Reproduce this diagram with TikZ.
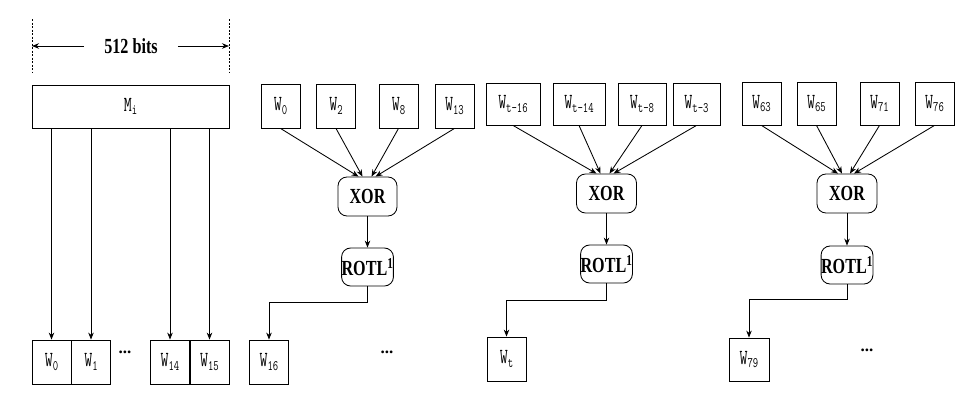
\documentclass[tikz,border=0pt]{standalone}
\usepackage{fontspec}
\setmainfont{Liberation Serif}
\newfontfamily\cfont[FakeStretch=0.75]{Liberation Serif}
\usetikzlibrary{arrows.meta,calc}
\newcommand\wlab[2]{\scalebox{0.72}[1]{\ttfamily\fontsize{21.5}{21.5}\selectfont #1\raisebox{-0.4ex}{\fontsize{14.5}{14.5}\selectfont #2}}}
\tikzset{
  ln/.style={line width=0.85pt},
  arr/.style={ln,-{Stealth[length=7pt,width=5.5pt]}},
  wbox/.style={draw,ln,inner sep=0pt,minimum width=39pt,minimum height=44pt},
  opbox/.style={draw,ln,rounded corners=9pt,inner sep=0pt,minimum height=39pt},
  optext/.style={font=\cfont\bfseries\fontsize{21.5}{21.5}\selectfont},
  dotsn/.style={font=\bfseries\fontsize{17}{17}\selectfont,inner sep=0pt},
}
\begin{document}
\begin{tikzpicture}[x=1pt,y=-1pt]
\useasboundingbox (0,0) rectangle (967,415);
% ---- block 1
\coordinate (dl1) at (32,19); \coordinate (dl2) at (32,73);
\coordinate (dr1) at (229,19); \coordinate (dr2) at (229,73);
\draw[dash pattern=on 2pt off 1.5pt,line width=0.6pt] (dl1) -- (dl2);
\draw[dash pattern=on 2pt off 1.5pt,line width=0.6pt] (dr1) -- (dr2);
\node[inner xsep=20pt,inner ysep=0pt,optext] (bits) at (131,46) {512 bits};
\coordinate (al) at (32,46); \coordinate (ar) at (229,46);
\draw[arr] (bits.west) -- (al);
\draw[arr] (bits.east) -- (ar);
\node[wbox,minimum width=197pt,minimum height=43pt] (mi) at (130.5,106.5) {\wlab{M}{i}};
\node[wbox] (b0) at (51.5,362) {\wlab{W}{0}};
\node[wbox] (b1) at (91,362) {\wlab{W}{1}};
\node[dotsn] (d1) at (125,352) {...};
\node[wbox] (b14) at (170,362) {\wlab{W}{14}};
\node[wbox] (b15) at (209.5,362) {\wlab{W}{15}};
\foreach \n in {b0,b1,b14,b15} \draw[arr] (\n.north |- mi.south) -- (\n.north);
% ---- block 2
\node[wbox] (a1) at (280.5,106) {\wlab{W}{0}};
\node[wbox] (a2) at (336,106) {\wlab{W}{2}};
\node[wbox] (a3) at (398.5,106) {\wlab{W}{8}};
\node[wbox] (a4) at (454.5,106) {\wlab{W}{13}};
\node[opbox,minimum width=59pt,optext] (x1) at (367.5,196.5) {XOR};
\node[opbox,minimum width=49pt,minimum height=38pt,optext] (r1) at (367.5,267) {ROTL\textsuperscript{1}};
\draw[arr] (a1.south) -- ($(x1.north)+(-9,0)$);
\draw[arr] (a2.south) -- ($(x1.north)+(-5,0)$);
\draw[arr] (a3.south) -- ($(x1.north)+(4,0)$);
\draw[arr] (a4.south) -- ($(x1.north)+(8,0)$);
\draw[arr] (x1.south) -- (r1.north);
\node[wbox] (b16) at (269,362) {\wlab{W}{16}};
\draw[arr] (r1.south) -- ++(0,16) -| (b16.north);
\node[dotsn] (d2) at (387,352) {...};
% ---- block 3
\node[wbox,minimum width=54pt,minimum height=42pt] (c1) at (513,104) {\wlab{W}{t-16}};
\node[wbox,minimum width=52pt,minimum height=42pt] (c2) at (579,104) {\wlab{W}{t-14}};
\node[wbox,minimum width=48pt,minimum height=42pt] (c3) at (642,104) {\wlab{W}{t-8}};
\node[wbox,minimum width=47pt,minimum height=42pt] (c4) at (696.5,104) {\wlab{W}{t-3}};
\node[opbox,minimum width=60pt,optext] (x2) at (606.5,193.5) {XOR};
\node[opbox,minimum width=49pt,minimum height=38pt,optext] (r2) at (606.5,264) {ROTL\textsuperscript{1}};
\draw[arr] (c1.south) -- ($(x2.north)+(-10,0)$);
\draw[arr] (c2.south) -- ($(x2.north)+(-6,0)$);
\draw[arr] (c3.south) -- ($(x2.north)+(3,0)$);
\draw[arr] (c4.south) -- ($(x2.north)+(7,0)$);
\draw[arr] (x2.south) -- (r2.north);
\node[wbox] (bt) at (506.5,359) {\wlab{W}{t}};
\draw[arr] (r2.south) -- ++(0,17) -| (bt.north);
% ---- block 4
\node[wbox,minimum height=43pt] (e1) at (761.5,103.5) {\wlab{W}{63}};
\node[wbox,minimum height=43pt] (e2) at (816.5,103.5) {\wlab{W}{65}};
\node[wbox,minimum height=43pt] (e3) at (879.5,103.5) {\wlab{W}{71}};
\node[wbox,minimum height=43pt] (e4) at (934.5,103.5) {\wlab{W}{76}};
\node[opbox,minimum width=60pt,optext] (x3) at (847,193.5) {XOR};
\node[opbox,minimum width=48pt,minimum height=38pt,optext] (r3) at (847,265) {ROTL\textsuperscript{1}};
\draw[arr] (e1.south) -- ($(x3.north)+(-9,0)$);
\draw[arr] (e2.south) -- ($(x3.north)+(-5,0)$);
\draw[arr] (e3.south) -- ($(x3.north)+(3,0)$);
\draw[arr] (e4.south) -- ($(x3.north)+(7,0)$);
\draw[arr] (x3.south) -- (r3.north);
\node[wbox,minimum width=40pt,minimum height=43pt] (b79) at (749,359.5) {\wlab{W}{79}};
\draw[arr] (r3.south) -- ++(0,15) -| (b79.north);
\node[dotsn] (d3) at (867,350) {...};
\end{tikzpicture}
\end{document}
